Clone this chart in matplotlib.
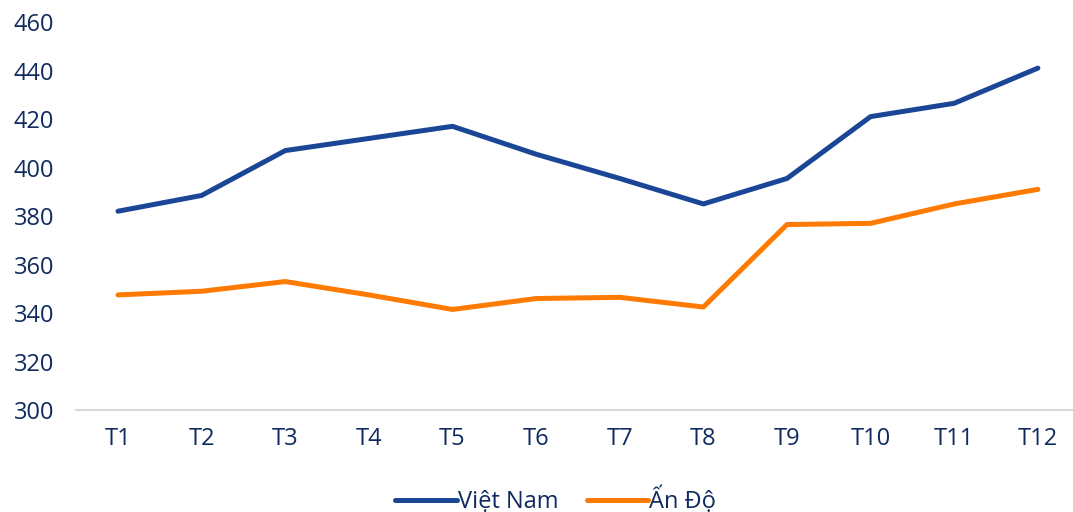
import matplotlib.pyplot as plt

plt.rcParams['font.family'] = ['Open Sans', 'DejaVu Sans']

months = ['T1', 'T2', 'T3', 'T4', 'T5', 'T6', 'T7', 'T8', 'T9', 'T10', 'T11', 'T12']
viet_nam = [382, 388.5, 407, 412, 417, 405.5, 395.5, 385, 395.5, 421, 426.5, 441]
an_do = [347.5, 349, 353, 347.5, 341.5, 346, 346.5, 342.5, 376.5, 377, 385, 391]

text_color = '#0E2A5E'

fig = plt.figure(figsize=(10.73, 5.12), dpi=100)
ax = fig.add_axes([0.071, 0.199, 0.929, 0.758])

x = range(len(months))
ax.plot(x, viet_nam, color='#1B4696', linewidth=3.6, label='Việt Nam', solid_capstyle='round')
ax.plot(x, an_do, color='#FF7A00', linewidth=3.6, label='Ấn Độ', solid_capstyle='round')

ax.set_xlim(-0.5, 11.42)
ax.set_ylim(300, 460)
ax.set_yticks(range(300, 461, 20))
ax.set_xticks(list(x))
ax.set_xticklabels(months)

for s in ['top', 'right', 'left']:
    ax.spines[s].set_visible(False)
ax.spines['bottom'].set_color('#D9D9D9')
ax.spines['bottom'].set_linewidth(1.5)
ax.tick_params(axis='both', length=0, labelsize=17, colors=text_color)
ax.tick_params(axis='x', pad=12)
ax.tick_params(axis='y', pad=16)

leg = fig.legend(loc='lower center', bbox_to_anchor=(0.518, -0.045), ncol=2, frameon=False,
                 fontsize=17, handlelength=2.6, columnspacing=1.2, handletextpad=0.05)
for t in leg.get_texts():
    t.set_color(text_color)

fig.savefig('out.png', dpi=100)
